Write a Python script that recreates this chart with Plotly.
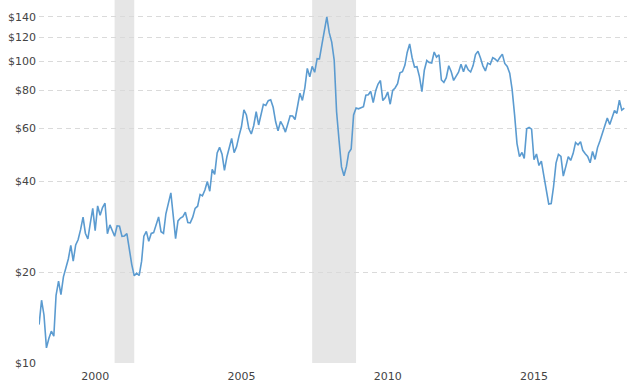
import pandas as pd
import plotly.graph_objects as go

# Monthly closing price of crude oil (USD/barrel), Aug 1998 - Aug 2018
start_month = "1998-08-01"
prices = [
    13.40, 16.14, 14.42, 11.22, 12.05,
    12.75, 12.27, 16.76, 18.66, 16.84, 19.29, 20.53, 22.10, 24.51, 21.75, 24.59, 25.60,
    27.64, 30.43, 26.90, 25.74, 29.01, 32.50, 27.43, 33.12, 30.84, 32.70, 33.82, 26.80,
    28.66, 27.39, 26.29, 28.46, 28.37, 26.25, 26.35, 26.81, 23.43, 21.18, 19.44, 19.84,
    19.48, 21.74, 26.31, 27.29, 25.31, 26.86, 27.02, 28.98, 30.45, 27.22, 26.89, 31.20,
    33.51, 36.60, 31.04, 25.80, 29.56, 30.19, 30.54, 31.57, 29.20, 29.11, 30.41, 32.52,
    33.05, 36.16, 35.76, 37.38, 39.88, 37.05, 43.80, 42.12, 49.64, 51.76, 49.13, 43.45,
    48.20, 51.75, 55.40, 49.72, 51.97, 56.50, 60.57, 68.94, 66.24, 59.76, 57.32, 61.04,
    67.92, 61.41, 66.63, 71.88, 71.29, 73.93, 74.40, 70.26, 62.91, 58.73, 63.13, 61.05,
    58.14, 61.79, 65.87, 65.71, 64.01, 70.68, 78.21, 74.04, 81.66, 94.53, 88.71, 95.98,
    91.75, 101.84, 101.58, 113.46, 127.35, 140.00, 124.08, 115.46, 100.64, 67.81, 54.43, 44.60,
    41.68, 44.76, 49.66, 51.12, 66.31, 69.89, 69.45, 69.96, 70.61, 77.00, 77.28, 79.36,
    72.89, 79.66, 83.76, 86.15, 73.97, 75.63, 78.95, 71.92, 79.97, 81.43, 84.11, 91.38,
    92.19, 96.97, 106.72, 113.93, 102.70, 95.42, 95.70, 88.81, 79.20, 93.19, 100.36, 98.83,
    98.48, 107.07, 103.02, 104.87, 86.53, 84.96, 88.06, 96.47, 92.19, 86.24, 88.91, 91.82,
    97.49, 92.05, 97.23, 93.46, 91.97, 96.56, 105.03, 107.65, 102.33, 96.38, 92.72, 98.42,
    97.49, 102.59, 101.58, 99.74, 102.71, 105.37, 98.17, 95.96, 91.16, 80.54, 66.15, 53.27,
    48.24, 49.76, 47.60, 59.63, 60.30, 59.47, 47.12, 49.20, 45.09, 46.59, 41.65, 37.04,
    33.62, 33.75, 38.34, 45.92, 49.10, 48.33, 41.60, 44.70, 48.24, 46.86, 49.44, 53.72,
    52.81, 54.01, 50.60, 49.33, 48.32, 46.04, 50.17, 47.23, 51.67, 54.38, 57.40, 60.42,
    64.73, 61.64, 64.94, 68.57, 67.04, 74.15, 68.76, 69.80,
]
dates = pd.date_range(start_month, periods=len(prices), freq="MS")

# Recession periods (shaded)
recession_starts = ["2001-03-01", "2007-12-01"]
recession_ends = ["2001-11-01", "2009-06-01"]

# Axis ticks
y_tickvals = [10, 20, 40, 60, 80, 100, 120, 140]
y_ticktext = ["$10", "$20", "$40", "$60", "$80", "$100", "$120", "$140"]
x_tick_years = [2000, 2005, 2010, 2015]

fig = go.Figure()
fig.add_trace(go.Scatter(
    x=dates, y=prices, mode="lines",
    line=dict(color="#5b9bd0", width=1.6),
    hoverinfo="skip", showlegend=False,
))

for s, e in zip(recession_starts, recession_ends):
    fig.add_shape(type="rect", xref="x", yref="paper", x0=s, x1=e, y0=0, y1=1,
                  fillcolor="#e6e6e6", line=dict(width=0), layer="below")

fig.update_layout(
    width=640, height=384,
    margin=dict(l=39, r=13, t=0, b=21),
    paper_bgcolor="white", plot_bgcolor="white",
    font=dict(family="DejaVu Sans, Verdana, sans-serif", size=11, color="#444444"),
    showlegend=False,
)
fig.update_xaxes(
    range=["1998-07-31", "2018-09-04"],
    tickvals=[f"{y}-07-02" for y in x_tick_years],
    ticktext=[str(y) for y in x_tick_years],
    showgrid=False, zeroline=False, showline=False, ticks="",
    tickfont=dict(size=11, color="#444444"),
    ticklabelstandoff=5,
    automargin=False,
)
fig.update_yaxes(
    type="log", range=[1, 2.202],
    tickvals=y_tickvals, ticktext=y_ticktext,
    showgrid=True, gridcolor="#dadada", gridwidth=1, griddash="5px,4px",
    zeroline=False, showline=False, ticks="",
    tickfont=dict(size=11, color="#444444"),
    ticklabelstandoff=2,
    automargin=False,
)

fig.write_html(
    "out.html",
    config={"displayModeBar": False},
    post_script="document.body.style.margin='0';document.body.style.overflow='hidden';",
)
